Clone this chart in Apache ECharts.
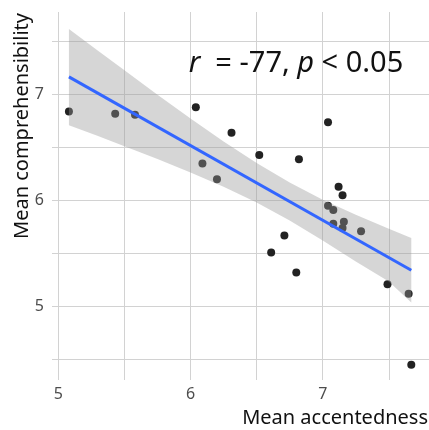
<!DOCTYPE html>
<html>
<head>
<meta charset="utf-8">
<script src="https://cdn.jsdelivr.net/npm/echarts@6/dist/echarts.min.js"></script>
<style>
html,body{margin:0;padding:0;background:#fff;}
#c{width:429px;height:430px;}
</style>
</head>
<body>
<div id="c"></div>
<script>
// Scatter points (Mean accentedness, Mean comprehensibility)
const accent = [5.08, 5.43, 5.58, 6.04, 6.31, 6.52, 6.82, 7.04, 6.09, 6.20, 7.12, 7.15, 7.04, 7.08, 7.08, 7.16, 7.15, 7.29, 6.71, 6.61, 6.80, 7.49, 7.65, 7.67];
const compre = [6.84, 6.82, 6.81, 6.88, 6.64, 6.43, 6.39, 6.74, 6.35, 6.20, 6.13, 6.05, 5.95, 5.91, 5.78, 5.80, 5.74, 5.71, 5.67, 5.51, 5.32, 5.21, 5.12, 4.45];
// Fitted regression line end points
const fitX = [5.08, 7.67];
const fitY = [7.167, 5.342];
// Confidence band
const bandX = [5.08, 5.3, 5.5, 5.75, 6.0, 6.25, 6.5, 6.75, 7.0, 7.25, 7.5, 7.67];
const bandUpper = [7.62, 7.415, 7.229, 6.999, 6.774, 6.557, 6.354, 6.170, 6.008, 5.865, 5.733, 5.646];
const bandLower = [6.71, 6.609, 6.513, 6.391, 6.264, 6.129, 5.981, 5.812, 5.622, 5.425, 5.235, 5.038];
// Ticks
const xGrid = [5, 5.5, 6, 6.5, 7, 7.5];
const yGrid = [4.5, 5, 5.5, 6, 6.5, 7, 7.5];
const xLabels = [5, 6, 7];
const yLabels = [5, 6, 7];

const chart = echarts.init(document.getElementById('c'), null, {renderer: 'canvas'});
const gridColor = '#d2d2d2';
const font = 'Noto Sans';

const option = {
  animation: false,
  backgroundColor: '#ffffff',
  grid: {left: 52, right: 0, top: 12, bottom: 50, containLabel: false},
  xAxis: {
    type: 'value', min: 4.952, max: 7.804,
    axisLine: {show: false}, axisTick: {show: false}, splitLine: {show: false},
    axisLabel: {customValues: xLabels, margin: 6, fontSize: 16, color: '#4d4d4d', fontFamily: font}
  },
  yAxis: {
    type: 'value', min: 4.305, max: 7.78,
    axisLine: {show: false}, axisTick: {show: false}, splitLine: {show: false},
    axisLabel: {customValues: yLabels, margin: 8, fontSize: 16, color: '#4d4d4d', fontFamily: font}
  },
  series: [
    {
      type: 'scatter', z: 2,
      symbolSize: 8,
      itemStyle: {color: '#222222', opacity: 1},
      data: accent.map((x, i) => [x, compre[i]]),
      silent: true,
      markLine: {
        z: 1, silent: true, symbol: ['none', 'none'], animation: false,
        label: {show: false},
        lineStyle: {color: gridColor, width: 1, type: 'solid'},
        data: xGrid.map(v => ({xAxis: v})).concat(yGrid.map(v => ({yAxis: v})))
      }
    },
    {
      type: 'custom', z: 3, silent: true,
      data: [[bandX[0], bandUpper[0]]],
      renderItem: function (params, api) {
        const pts = [];
        for (let i = 0; i < bandX.length; i++) pts.push(api.coord([bandX[i], bandUpper[i]]));
        for (let i = bandX.length - 1; i >= 0; i--) pts.push(api.coord([bandX[i], bandLower[i]]));
        return {type: 'polygon', shape: {points: pts}, style: {fill: 'rgba(153,153,153,0.4)'}};
      }
    },
    {
      type: 'line', z: 4, silent: true,
      symbol: 'none',
      lineStyle: {color: '#3366FF', width: 3},
      data: fitX.map((x, i) => [x, fitY[i]])
    }
  ],
  graphic: [
    {
      type: 'text', x: 296, y: 64, z: 10,
      style: {
        text: '{i|r}  = -77, {i|p} < 0.05',
        fontSize: 29, fontFamily: font, fill: '#111',
        align: 'center', verticalAlign: 'middle',
        rich: {i: {fontStyle: 'italic', fontSize: 29, fontFamily: font, fill: '#111'}}
      }
    },
    {
      type: 'text', x: 22, y: 13, rotation: Math.PI / 2, z: 10,
      style: {text: 'Mean comprehensibility', fontSize: 20, fontFamily: font, fill: '#111', align: 'right', verticalAlign: 'middle'}
    },
    {
      type: 'text', x: 428, y: 418, z: 10,
      style: {text: 'Mean accentedness', fontSize: 20, fontFamily: font, fill: '#111', align: 'right', verticalAlign: 'middle'}
    }
  ]
};
chart.setOption(option);
</script>
</body>
</html>
